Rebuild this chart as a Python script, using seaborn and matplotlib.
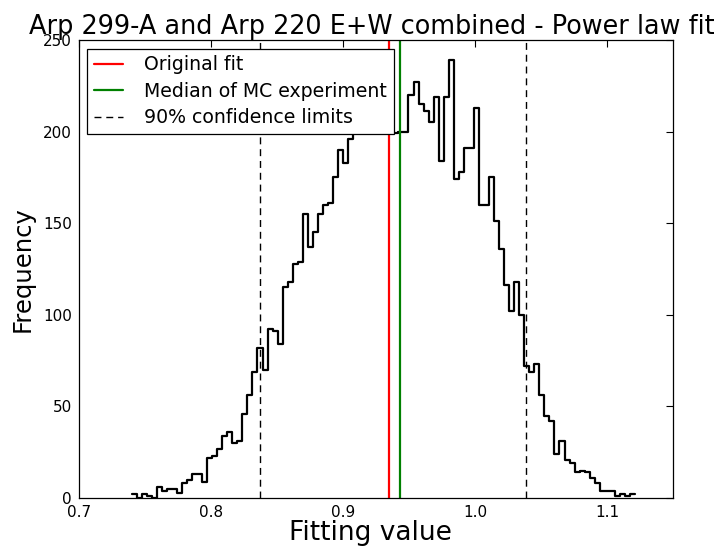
import numpy as np
import pandas as pd
import matplotlib
matplotlib.use("Agg")
import matplotlib.pyplot as plt
import seaborn as sns

# histogram of the Monte Carlo fitting values (100 bins)
bin_lo = 0.7399
bin_hi = 1.1212
counts = [2, 0, 2, 1, 0, 6, 4, 5, 5, 3,
          8, 10, 13, 13, 9, 22, 23, 27, 34, 36,
          30, 31, 46, 56, 69, 82, 70, 92, 91, 84,
          115, 118, 128, 129, 155, 137, 145, 155, 160, 161,
          175, 190, 183, 196, 199, 212, 205, 222, 216, 229,
          210, 218, 199, 200, 200, 220, 227, 215, 211, 205,
          219, 184, 219, 239, 174, 178, 191, 191, 213, 160,
          160, 175, 151, 136, 116, 102, 118, 100, 72, 69,
          73, 56, 45, 42, 24, 31, 21, 19, 14, 15,
          14, 11, 8, 4, 4, 4, 1, 2, 1, 2]

original_fit = 0.9348
mc_median = 0.9432
conf_limits = [0.8371, 1.0383]

edges = np.linspace(bin_lo, bin_hi, len(counts) + 1)
df = pd.DataFrame({"value": (edges[:-1] + edges[1:]) / 2, "count": counts})

sns.set_style("white")
plt.rcParams["font.family"] = ["DejaVu Sans"]
plt.rcParams["text.color"] = "black"
plt.rcParams["axes.labelcolor"] = "black"

fig = plt.figure(figsize=(7.2, 5.49), dpi=100)
ax = fig.add_axes([0.1097, 0.0929, 0.825, 0.8342])

# bins must be a list here (an array trips seaborn's "auto" check)
sns.histplot(data=df, x="value", weights="count", bins=list(edges),
             element="step", fill=False, color="black", linewidth=1.6, ax=ax)

ax.axvline(original_fit, color="red", lw=1.6, label="Original fit")
ax.axvline(mc_median, color="green", lw=1.6, label="Median of MC experiment")
ax.axvline(conf_limits[0], color="black", lw=1.0, ls=(0, (5, 3.5)),
           label="90% confidence limits")
ax.axvline(conf_limits[1], color="black", lw=1.0, ls=(0, (5, 3.5)))

ax.set_xlim(0.7, 1.15)
ax.set_ylim(0, 250)
ax.set_xticks([0.7, 0.8, 0.9, 1.0, 1.1])
ax.set_yticks([0, 50, 100, 150, 200, 250])
ax.tick_params(direction="in", length=5, width=0.8, top=True, right=True,
               labelsize=11, colors="black", pad=5)
for sp in ax.spines.values():
    sp.set_color("black")
    sp.set_linewidth(0.9)

ax.set_title("Arp 299-A and Arp 220 E+W combined - Power law fit",
             fontsize=18.4, pad=4, x=0.493, color="black")
ax.set_xlabel("Fitting value", fontsize=19, labelpad=0, x=0.49)
ax.set_ylabel("Frequency", fontsize=17.5, labelpad=6)

leg = ax.legend(loc="upper left", fontsize=13.6, framealpha=1, fancybox=False,
                edgecolor="black", borderaxespad=0.45, handlelength=1.55,
                handletextpad=1.1, labelspacing=0.4, borderpad=0.35)
leg.get_frame().set_linewidth(0.9)
leg.set_zorder(10)
for t in leg.get_texts():
    t.set_color("black")

plt.savefig("out.png", dpi=100)
